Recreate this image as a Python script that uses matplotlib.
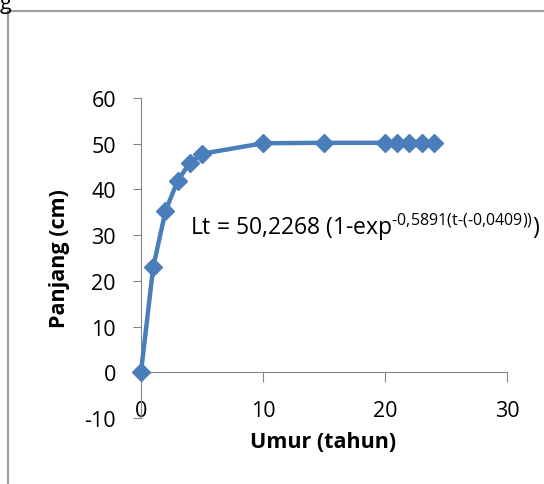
import matplotlib
matplotlib.use('Agg')
import matplotlib.pyplot as plt
from matplotlib.patches import Rectangle

# umur (tahun) vs panjang (cm)
umur = [0, 1, 2, 3, 4, 5, 10, 15, 20, 21, 22, 23, 24]
panjang = [0, 23.0, 35.2, 41.9, 45.8, 47.8, 50.1, 50.2, 50.2, 50.2, 50.2, 50.2, 50.2]

xticks = [0, 10, 20, 30]
yticks = [-10, 0, 10, 20, 30, 40, 50, 60]
persamaan = r'Lt = 50,2268 (1-exp$^{\text{-0,5891(t-(-0,0409))}}$)'

font = 'Open Sans'
plt.rcParams['font.family'] = [font, 'DejaVu Sans']
plt.rcParams['axes.unicode_minus'] = False
plt.rcParams['mathtext.fontset'] = 'custom'
plt.rcParams['mathtext.rm'] = font
blue = '#4a7ebb'
grey = '#868686'
fs = 15.5

fig = plt.figure(figsize=(5.44, 4.85), dpi=100)

# chart area border (cut off on the right and bottom)
fig.patches.append(Rectangle((8/544, -0.1), 1.0, 1 - 12/485 + 0.1,
                             transform=fig.transFigure, fill=False,
                             edgecolor='#a0a0a0', lw=1.5))
fig.text(6/544, 1 - 3/485, 'g', fontsize=fs, va='center', ha='center')

ax = fig.add_axes([141/544, 1 - 419/485, (507 - 141)/544, (419 - 99)/485])
ax.plot(umur, panjang, color=blue, lw=3.2, marker='D', ms=9,
        markerfacecolor=blue, markeredgecolor=blue, zorder=3, clip_on=False)

ax.set_xlim(0, 30)
ax.set_ylim(-10, 60)
ax.set_xticks(xticks)
ax.set_yticks(yticks)

for s in ['top', 'right']:
    ax.spines[s].set_visible(False)
ax.spines['bottom'].set_position(('data', 0))
ax.spines['bottom'].set_color(grey)
ax.spines['left'].set_color(grey)
ax.tick_params(axis='both', colors=grey, labelcolor='black', labelsize=fs)
ax.tick_params(axis='x', direction='out', length=7, pad=13)
ax.tick_params(axis='y', direction='out', length=6, pad=12)

ax.text(4.0, 32, persamaan, fontsize=16.5, va='center', ha='left')

fig.text(323/544, 1 - 443/485, 'Umur (tahun)', fontsize=fs,
         fontweight='bold', ha='center', va='center')
fig.text(60/544, 1 - 259/485, 'Panjang (cm)', fontsize=fs,
         fontweight='bold', ha='center', va='center', rotation=90)

fig.savefig('out.png', dpi=100)
